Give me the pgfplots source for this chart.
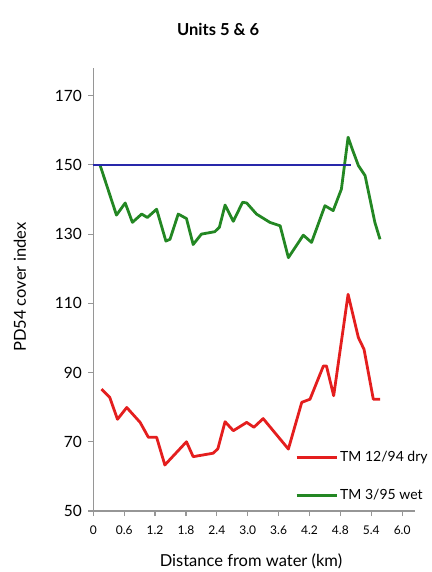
\documentclass[border=0pt]{standalone}
\usepackage{pgfplots}
\pgfplotsset{compat=1.18}
\usepackage{fontspec}
\setmainfont{Lato}
\definecolor{gline}{RGB}{35,135,35}
\definecolor{rline}{RGB}{228,30,30}
\definecolor{bline}{RGB}{40,40,170}
\definecolor{axgray}{RGB}{150,150,150}
\begin{document}
\begin{tikzpicture}
\path[use as bounding box] (0,0) rectangle (431pt,572pt);
\begin{axis}[
  at={(93.3pt,61pt)}, anchor=south west,
  scale only axis, width=321.7pt, height=443pt,
  xmin=0, xmax=6.25, ymin=50, ymax=178,
  axis x line=bottom, axis y line=left,
  axis line style={-, axgray, line width=1.6pt},
  tick style={axgray, line width=1.2pt},
  major tick length=5pt, tick align=outside,
  xtick={0,0.6,1.2,1.8,2.4,3.0,3.6,4.2,4.8,5.4,6.0},
  xticklabels={0,0.6,1.2,1.8,2.4,3.0,3.6,4.2,4.8,5.4,6.0},
  ytick={50,70,90,110,130,150,170},
  /pgf/number format/assume math mode=true,
  tick label style={font=\fontsize{15.5}{17}\selectfont},
  xticklabel style={font=\fontsize{12}{14}\selectfont, yshift=-6pt},
  yticklabel style={xshift=-3pt},
  title={\textbf{Units 5 \& 6}},
  title style={font=\fontsize{16.5}{19}\selectfont, at={(axis description cs:0.388,1.073)}, anchor=center, yshift=0pt},
  xlabel={Distance from water (km)},
  xlabel style={font=\fontsize{16.5}{19}\selectfont, at={(axis description cs:0.49,-0.113)}, anchor=center},
  ylabel={PD54 cover index},
  ylabel style={font=\fontsize{16.5}{19}\selectfont, at={(axis description cs:-0.228,0.505)}, anchor=center, rotate=0},
  legend style={draw=none, fill=none, at={(axis description cs:0.627,0.078)}, anchor=west,
    font=\fontsize{14}{16}\selectfont, inner sep=0pt, row sep=22pt, cells={anchor=west}},
  legend image code/.code={\draw[#1, line width=3pt] (0pt,0pt) -- (40pt,0pt);},
  clip=false,
]
\addplot[rline, line width=2.8pt, line join=round] coordinates {
(0.16,85.2) (0.32,82.8) (0.47,76.5) (0.65,79.9) (0.91,75.6) (1.07,71.3) (1.23,71.3)
(1.39,63.3) (1.81,70.0) (1.94,65.7) (2.33,66.7) (2.42,68) (2.56,75.8) (2.72,73.2)
(2.98,75.6) (3.12,74.2) (3.30,76.7) (3.79,67.9) (4.05,81.4) (4.21,82.3) (4.47,91.9)
(4.53,91.9) (4.67,83.3) (4.95,112.6) (5.15,100.1) (5.26,96.7) (5.44,82.3) (5.57,82.3)
};
\addlegendentry{TM 12/94 dry}
\addplot[gline, line width=2.8pt, line join=round] coordinates {
(0.13,150) (0.45,135.5) (0.62,139) (0.76,133.4) (0.94,135.8) (1.05,134.8) (1.23,137.2)
(1.41,128) (1.49,128.5) (1.65,135.8) (1.81,134.5) (1.94,127) (2.10,130) (2.36,130.7)
(2.45,132) (2.56,138.4) (2.72,133.7) (2.90,139.2) (2.98,139) (3.17,135.8) (3.43,133.4)
(3.63,132.4) (3.79,123.2) (4.08,129.7) (4.24,127.6) (4.50,138.2) (4.66,136.8) (4.82,143)
(4.95,158) (5.03,154.6) (5.15,149.8) (5.28,146.9) (5.47,133.4) (5.57,128.5)
};
\addlegendentry{TM 3/95 wet}
\addplot[bline, line width=2.4pt, forget plot] coordinates {(0,150) (5.0,150)};
\end{axis}
\end{tikzpicture}
\end{document}
